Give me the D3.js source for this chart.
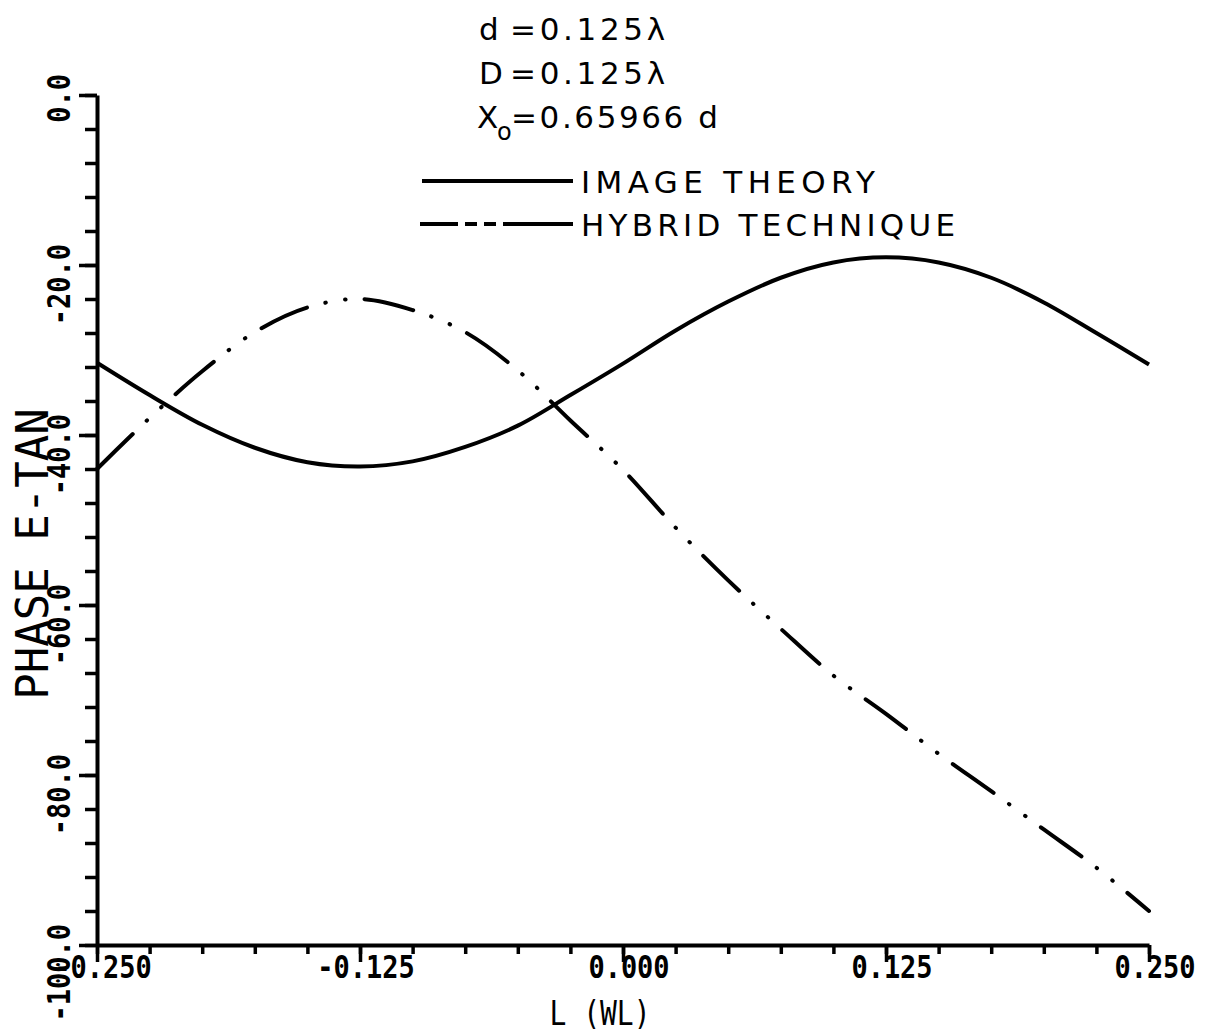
<!DOCTYPE html>
<meta charset="utf-8">
<head>
    <title>Phase E-Tan</title>
</head>
<style>
    body { margin: 0; background: #fff; }
    svg { display: block; }
    .tick line { stroke: #000; stroke-width: 3.5; }
    .domain { stroke: #000; stroke-width: 4; }
    .ticklab { font-family: "DejaVu Sans Mono", monospace; font-weight: bold; font-size: 27px; fill: #000; }
    .note { font-family: "DejaVu Sans", sans-serif; font-size: 31px; fill: #000; }
</style>
<body>
<svg id="chart"></svg>
<script src="https://cdnjs.cloudflare.com/ajax/libs/d3/7.8.5/d3.min.js"></script>
<script>

    // Data (L in wavelengths, phase in degrees)
    var L = [-0.250, -0.225, -0.200, -0.175, -0.150, -0.125, -0.100, -0.075, -0.050, -0.025,
              0.000,  0.025,  0.050,  0.075,  0.100,  0.125,  0.150,  0.175,  0.200,  0.225, 0.250];
    var imageTheory = [-31.5, -35.3, -38.8, -41.5, -43.2, -43.7, -43.1, -41.4, -38.9, -35.3,
                       -31.6, -27.7, -24.3, -21.5, -19.7, -19.1, -19.7, -21.5, -24.4, -28.0, -31.7];
    var hybrid = [-44.0, -38.0, -32.5, -27.9, -25.0, -24.0, -25.3, -27.9, -32.4, -38.3,
                  -44.1, -50.9, -57.1, -62.8, -68.3, -72.8, -77.5, -81.9, -86.4, -90.9, -96.0];

    var xMajor = [-0.250, -0.125, 0.000, 0.125, 0.250];
    var xMajorLabels = ["-0.250", "-0.125", "0.000", "0.125", "0.250"];
    var xMinor = d3.range(-0.25, 0.2501, 0.025);
    var yMajor = [0, -20, -40, -60, -80, -100];
    var yMajorLabels = ["0.0", "-20.0", "-40.0", "-60.0", "-80.0", "-100.0"];
    var yMinor = d3.range(0, -100.1, -4);

    var width = 1219, height = 1035;

    var svg = d3.select('#chart').attr('width', width).attr('height', height);

    var x = d3.scaleLinear().domain([-0.25, 0.25]).range([97, 1149]);
    var y = d3.scaleLinear().domain([0, -100]).range([95, 945]);

    // x axis: minor then major ticks
    svg.append('g').attr('transform', `translate(0,${y(-100)})`)
        .call(d3.axisBottom(x).tickValues(xMinor).tickSize(9).tickSizeOuter(0).tickFormat(''));
    svg.append('g').attr('transform', `translate(0,${y(-100)})`)
        .call(d3.axisBottom(x).tickValues(xMajor).tickSize(17).tickSizeOuter(0).tickFormat(''))
        .select('.domain').remove();

    // y axis
    svg.append('g').attr('transform', `translate(${x(-0.25)},0)`)
        .call(d3.axisLeft(y).tickValues(yMinor).tickSize(12).tickSizeOuter(0).tickFormat(''));
    svg.append('g').attr('transform', `translate(${x(-0.25)},0)`)
        .call(d3.axisLeft(y).tickValues(yMajor).tickSize(18).tickSizeOuter(0).tickFormat(''))
        .select('.domain').remove();

    // tick labels
    svg.append('g').selectAll('text')
        .data(xMajor)
        .enter().append('text')
        .attr('class', 'ticklab')
        .attr('transform', d => `translate(${x(d) + 6},978) scale(1,1.15)`)
        .attr('text-anchor', 'middle')
        .text((d, i) => xMajorLabels[i]);

    svg.append('g').selectAll('text')
        .data(yMajor)
        .enter().append('text')
        .attr('class', 'ticklab')
        .attr('text-anchor', 'end')
        .attr('transform', d => `translate(70,${y(d) - 21}) rotate(-90) scale(1,1.15)`)
        .text((d, i) => yMajorLabels[i]);

    // axis titles
    svg.append('text')
        .attr('transform', 'translate(600,1025) scale(1,1.2)')
        .attr('text-anchor', 'middle')
        .attr('font-family', 'DejaVu Sans Mono, monospace')
        .attr('font-size', 28)
        .text('L (WL)');

    svg.append('text')
        .attr('transform', 'translate(48,554) rotate(-90)')
        .attr('text-anchor', 'middle')
        .attr('font-family', 'DejaVu Sans Mono, monospace')
        .attr('font-size', 44)
        .text('PHASE E-TAN');

    // curves
    var line = d3.line()
        .curve(d3.curveCatmullRom)
        .x((d, i) => x(L[i]))
        .y(d => y(d));

    svg.append('path')
        .datum(imageTheory)
        .attr('d', line)
        .attr('fill', 'none')
        .attr('stroke', '#000')
        .attr('stroke-width', 4);

    svg.append('path')
        .datum(hybrid)
        .attr('d', line)
        .attr('fill', 'none')
        .attr('stroke', '#000')
        .attr('stroke-width', 4)
        .attr('stroke-linecap', 'round')
        .attr('stroke-dasharray', '50,19,0.5,19.5,0.5,19');

    // parameters
    var notes = svg.append('g').attr('class', 'note');
    notes.append('text').attr('x', 479).attr('y', 40).text('d');
    notes.append('text').attr('x', 510).attr('y', 40).attr('textLength', 155).attr('lengthAdjust', 'spacing').text('=0.125λ');
    notes.append('text').attr('x', 479).attr('y', 84).text('D');
    notes.append('text').attr('x', 510).attr('y', 84).attr('textLength', 155).attr('lengthAdjust', 'spacing').text('=0.125λ');
    notes.append('text').attr('x', 477).attr('y', 128).text('X');
    notes.append('text').attr('x', 497).attr('y', 140).attr('font-size', 24).text('o');
    notes.append('text').attr('x', 511).attr('y', 128).attr('textLength', 207).attr('lengthAdjust', 'spacing').text('=0.65966 d');

    // legend
    svg.append('line').attr('x1', 422).attr('x2', 573).attr('y1', 181).attr('y2', 181)
        .attr('stroke', '#000').attr('stroke-width', 4);
    svg.append('line').attr('x1', 420).attr('x2', 573).attr('y1', 224).attr('y2', 224)
        .attr('stroke', '#000').attr('stroke-width', 4)
        .attr('stroke-dasharray', '38,7,12,7,12,7,80');
    notes.append('text').attr('x', 581).attr('y', 193).attr('textLength', 294).attr('lengthAdjust', 'spacing').text('IMAGE  THEORY');
    notes.append('text').attr('x', 581).attr('y', 236).attr('textLength', 374).attr('lengthAdjust', 'spacing').text('HYBRID  TECHNIQUE');

</script>
</body>
</html>
